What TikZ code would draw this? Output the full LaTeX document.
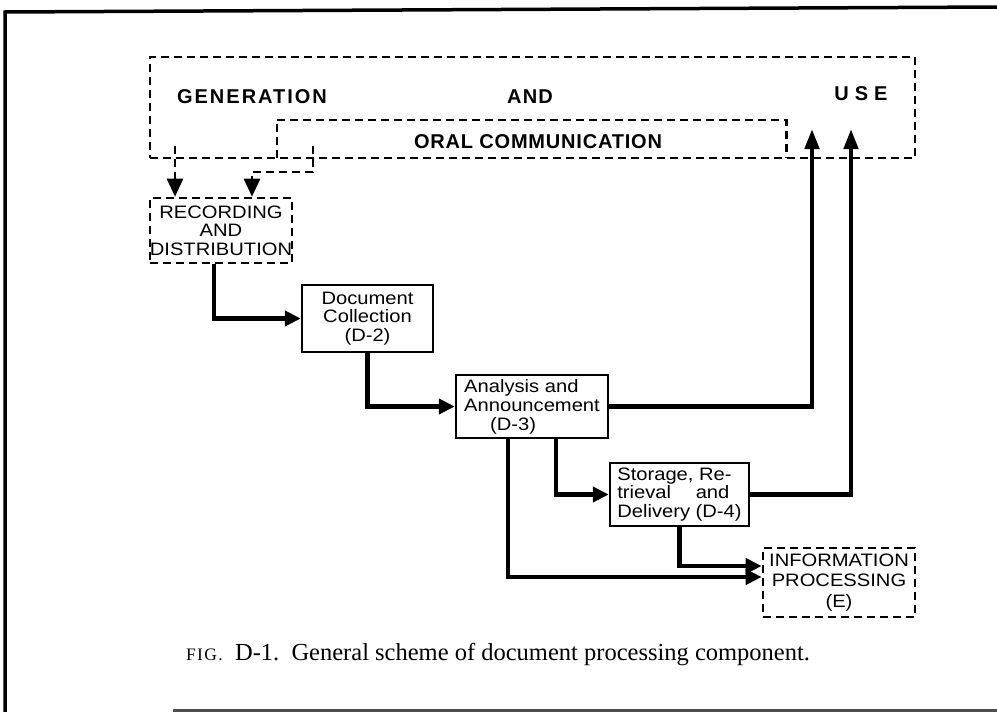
\documentclass[tikz,border=0pt]{standalone}
\usepackage{fontspec}
\setsansfont{Liberation Sans}
\setmainfont{Liberation Serif}
\usetikzlibrary{arrows.meta}
\tikzset{
  framel/.style={line width=3.5pt},
  dline/.style={line width=2.6pt, dash pattern=on 8pt off 5pt},
  sbox/.style={draw, line width=2.4pt, inner sep=0pt, font=\boxfont},
  dbox/.style={draw, dline, inner sep=0pt, font=\boxfont},
  flow/.style={line width=4.5pt, -{Triangle[length=16pt,width=15pt]}},
  upflow/.style={line width=4.5pt, -{Triangle[length=20pt,width=14pt]}},
  dflow/.style={dline, -{Triangle[length=18pt,width=16pt]}},
  biglabel/.style={font=\bigfont, inner sep=0pt}
}
\newcommand{\boxfont}{\sffamily\fontsize{18}{18.5}\selectfont\addfontfeature{FakeStretch=1.12}}
\newcommand{\bigfont}{\sffamily\bfseries\fontsize{20}{24}\selectfont}
\begin{document}
\begin{tikzpicture}[x=1pt,y=-1pt]
\useasboundingbox (0,0) rectangle (997,712);
% outer frame
\draw[framel] (5,712) -- (5,12) -- (997,7);
\draw[line width=3pt, black!70] (173,710.5) -- (997,710.5);

% big dashed box
\node[draw, dline, minimum width=765pt, minimum height=101pt, inner sep=0pt] (gen) at (532.5,107.5) {};
\node[biglabel] (tgen) at (252,97) {\addfontfeature{LetterSpace=10}GENERATION};
\node[biglabel] (tand) at (530,97) {\addfontfeature{LetterSpace=6}AND};
\node[biglabel] (tuse) at (861,94) {\addfontfeature{LetterSpace=30}USE};

% oral communication (open bottom)
\node[minimum width=509pt, minimum height=38pt, inner sep=0pt] (oral) at (531.5,139) {};
\draw[dline] (oral.south west) |- (oral.north east) -- (oral.south east);
\node[biglabel] (toral) at (538,142) {\addfontfeature{LetterSpace=4}ORAL COMMUNICATION};

% boxes
\node[dbox, minimum width=142pt, minimum height=65pt, align=center] (rec) at (221,230.5)
  {RECORDING\\AND\\DISTRIBUTION};
\node[sbox, minimum width=131pt, minimum height=67pt, align=center] (doc) at (367.5,318.5)
  {Document\\Collection\\(D-2)};
\node[sbox, minimum width=152pt, minimum height=63pt, align=left] (ana) at (532,406.5)
  {Analysis and\\[1pt]Announcement\\\hspace*{26pt}(D-3)};
\node[sbox, minimum width=139pt, minimum height=63pt, align=left] (sto) at (679.5,494.5)
  {Storage, Re-\\trieval\hspace{1.06em} and\\Delivery (D-4)};
\node[dbox, minimum width=152pt, minimum height=69pt, align=center,
  font=\sffamily\fontsize{18}{20.5}\selectfont\addfontfeature{FakeStretch=1.12}] (info) at (839,582.5)
  {INFORMATION\\PROCESSING\\(E)};

% free ends
\coordinate (g1) at (175,146);
\coordinate (o1) at (313,146);
\coordinate (u1) at (812,129);
\coordinate (u2) at (851,129);

% dashed connectors
\draw[dflow] (g1) -- (g1 |- rec.north);
\draw[dflow] (o1) -- ++(0,26) -| ([xshift=31pt]rec.north);

% solid connectors
\draw[flow] ([xshift=-7pt]rec.south) |- (doc.west);
\draw[flow] (doc.south) |- (ana.west);
\draw[upflow] (ana.east) -| (u1);
\draw[flow] ([xshift=24pt]ana.south) |- (sto.west);
\draw[upflow] (sto.east) -| (u2);
\draw[flow] (sto.south) |- ([yshift=16.5pt]info.west);
\draw[flow] ([xshift=-24pt]ana.south) |- ([yshift=5.5pt]info.west);

% caption
\node[inner sep=0pt, font=\rmfamily\fontsize{24.5}{28}\selectfont] (cap) at (498,655)
  {{\fontsize{17.5}{20}\selectfont\addfontfeature{LetterSpace=8}FIG.}\enspace D-\oldstylenums{1}.\enspace General scheme of document processing component.};
\end{tikzpicture}
\end{document}
